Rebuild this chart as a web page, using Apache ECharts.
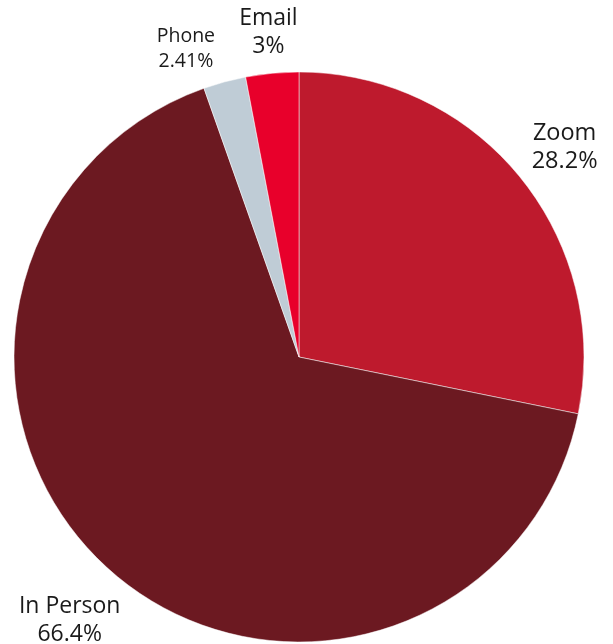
<!DOCTYPE html>
<html><head><meta charset="utf-8">
<script src="https://cdn.jsdelivr.net/npm/echarts@6/dist/echarts.min.js"></script>
<style>html,body{margin:0;padding:0;background:#fff}#c{width:613px;height:644px}</style>
</head><body><div id="c"></div>
<script>
const categories = ['Zoom', 'In Person', 'Phone', 'Email'];
const values = [28.2, 66.4, 2.41, 3];
const colors = ['#BE1A2D', '#6C1921', '#BFCCD6', '#E8002B'];
const labelSizes = [23.5, 23, 19.5, 23];
const labelLineHeights = [28, 28, 25, 28];
const labelAngleShift = [1, 0, -5, 0]; // degrees, to keep small labels apart

const chart = echarts.init(document.getElementById('c'));
const center = [299, 357];
const pieRadius = 285;
const labelGap = 10;
chart.setOption({
  animation: false,
  series: [{
    type: 'pie',
    center: center,
    radius: pieRadius,
    startAngle: 90,
    clockwise: true,
    label: {show: false},
    labelLine: {show: false},
    itemStyle: {borderColor: '#fff', borderWidth: 0.5},
    data: categories.map((c, i) => ({name: c, value: values[i], itemStyle: {color: colors[i]}}))
  }, {
    type: 'pie',
    center: center,
    radius: [pieRadius - 1, pieRadius + 1],
    startAngle: 90,
    clockwise: true,
    silent: true,
    itemStyle: {color: 'rgba(0,0,0,0)'},
    labelLine: {show: false},
    label: {
      show: true, position: 'inside', formatter: '{b}\n{c}%',
      color: '#1a1a1a', fontFamily: 'Open Sans'
    },
    labelLayout: function (p) {
      const r = p.labelRect;
      const cx = r.x + r.width / 2 - center[0];
      const cy = r.y + r.height / 2 - center[1];
      const len = Math.sqrt(cx * cx + cy * cy) || 1;
      const a = Math.atan2(cy, cx) + (labelAngleShift[p.dataIndex] || 0) * Math.PI / 180;
      const ux = Math.cos(a), uy = Math.sin(a);
      const hp = Math.abs(ux) * r.width / 2 + Math.abs(uy) * r.height / 2;
      const d = pieRadius + labelGap + hp;
      return {dx: ux * d - cx, dy: uy * d - cy};
    },
    data: categories.map((c, i) => ({
      name: c, value: values[i],
      label: {fontSize: labelSizes[i], lineHeight: labelLineHeights[i]}
    }))
  }]
});
</script></body></html>
